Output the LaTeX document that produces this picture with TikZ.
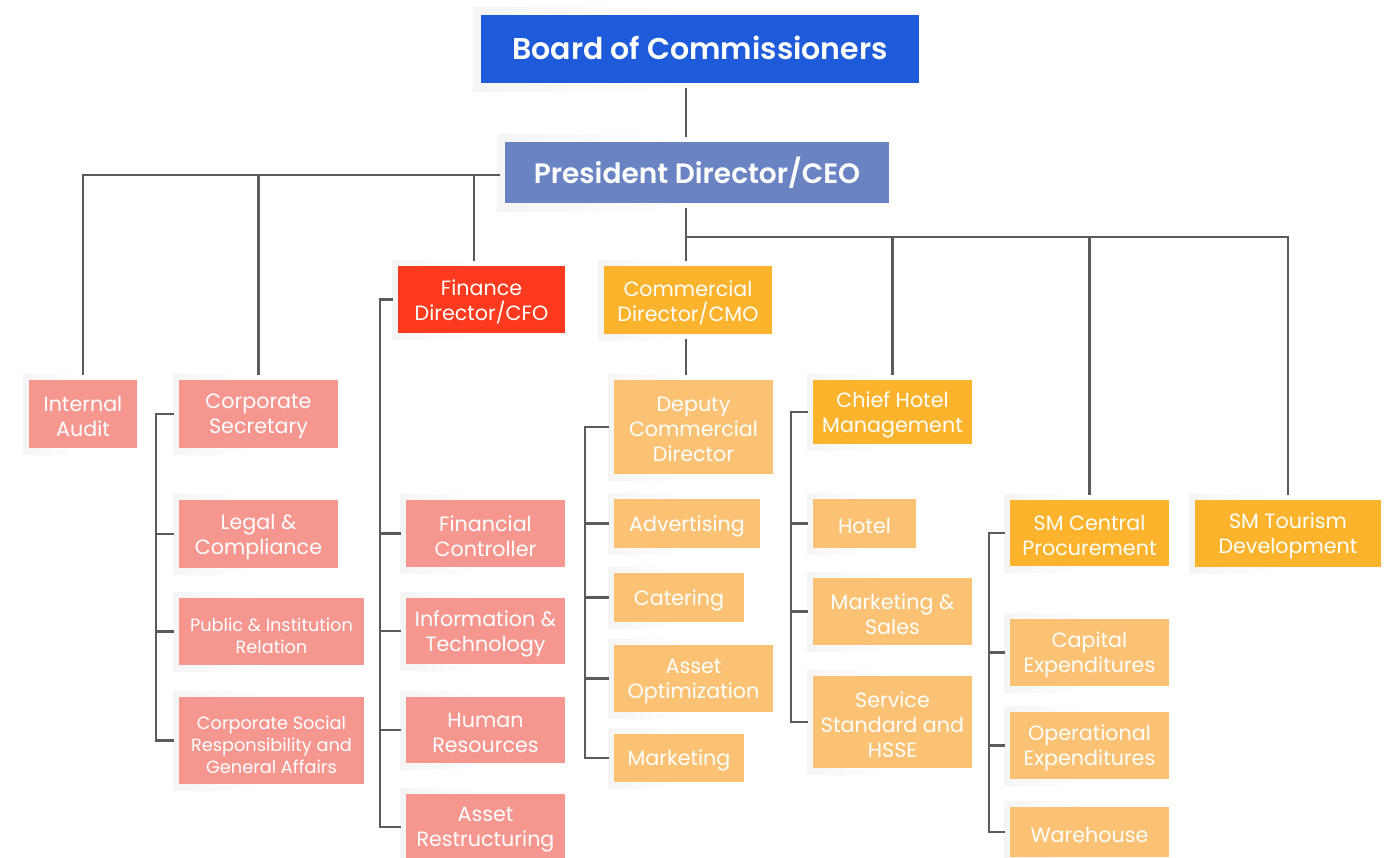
\documentclass[tikz,border=0pt]{standalone}
\usepackage{fontspec}
\setmainfont{Poppins}[BoldFont={Poppins SemiBold}]
\usetikzlibrary{calc}
\definecolor{cBoard}{HTML}{1E5BDB}
\definecolor{cPres}{HTML}{6A83C2}
\definecolor{cRed}{HTML}{FF3A1F}
\definecolor{cOrange}{HTML}{FDB32B}
\definecolor{cLight}{HTML}{FCC274}
\definecolor{cPink}{HTML}{F5978F}
\definecolor{cLine}{HTML}{5B5B5B}
\tikzset{
  basebox/.style={rectangle, inner sep=0pt, outer sep=3.4pt},
  boardbox/.style={basebox, fill=cBoard},
  presbox/.style={basebox, fill=cPres},
  redbox/.style={basebox, fill=cRed},
  orangebox/.style={basebox, fill=cOrange},
  lightbox/.style={basebox, fill=cLight},
  pinkbox/.style={basebox, fill=cPink},
  boxtext/.style={inner sep=0pt, text=white, align=center, yshift=-2pt,
    font=\fontsize{15.5}{18.8}\selectfont},
  bigtext/.style={boxtext, yshift=2.5pt, font=\fontsize{22.5}{26}\selectfont\bfseries},
  prestext/.style={boxtext, yshift=2pt, font=\fontsize{21}{24}\selectfont\bfseries},
  smalltext/.style={boxtext, yshift=-1pt, font=\fontsize{13.3}{16.5}\selectfont},
  conn/.style={draw=cLine, line width=2.1pt, line join=miter},
}
% name, x1, y1, x2, y2, box style, text, shadow pad, text style
\newcommand\obox[9]{%
  \shade[left color=gray!8, right color=white] (#2-#8,#3-#8) rectangle ({#2+0.45*(#4-#2)},#5+#8);
  \node[#6, minimum width={(#4-#2)*0.75pt}, minimum height={(#5-#3)*0.75pt}]
    (#1) at ({(#2+#4)/2},{(#3+#5)/2}) {};%
  \node[#9] (#1-t) at (#1.center) {#7};%
}
\begin{document}
\begin{tikzpicture}[x=0.75pt,y=-0.75pt]
\useasboundingbox[fill=white] (0,0) rectangle (1392,857);

% top
\obox{board}{481}{15}{919}{83}{boardbox}{Board of Commissioners}{8}{bigtext}
\obox{pres}{505}{142}{889}{203}{presbox}{President Director/CEO}{8}{prestext}

% left group
\obox{ia}{29}{380}{137}{448}{pinkbox}{Internal\\Audit}{6}{boxtext}
\obox{cs}{179}{380}{338}{448}{pinkbox}{Corporate\\Secretary}{6}{boxtext}
\obox{legal}{179}{500}{338}{568}{pinkbox}{Legal \&\\Compliance}{6}{boxtext}
\obox{pir}{179}{598}{364}{665}{pinkbox}{Public \& Institution\\Relation}{6}{smalltext}
\obox{csr}{179}{697}{364}{784}{pinkbox}{Corporate Social\\Responsibility and\\General Affairs}{6}{smalltext}

% finance
\obox{fin}{398}{266}{565}{333}{redbox}{Finance\\Director/CFO}{6}{boxtext}
\obox{fc}{406}{500}{565}{567}{pinkbox}{Financial\\Controller}{6}{boxtext}
\obox{it}{406}{598}{565}{664}{pinkbox}{Information \&\\Technology}{6}{boxtext}
\obox{hr}{406}{697}{565}{763}{pinkbox}{Human\\Resources}{6}{boxtext}
\obox{ar}{406}{794}{565}{860}{pinkbox}{Asset\\Restructuring}{6}{boxtext}

% commercial
\obox{cmo}{604}{266}{772}{334}{orangebox}{Commercial\\Director/CMO}{6}{boxtext}
\obox{dcd}{614}{380}{773}{474}{lightbox}{Deputy\\Commercial\\Director}{6}{boxtext}
\obox{adv}{614}{499}{760}{548}{lightbox}{Advertising}{6}{boxtext}
\obox{cat}{614}{573}{744}{622}{lightbox}{Catering}{6}{boxtext}
\obox{ao}{614}{645}{773}{712}{lightbox}{Asset\\Optimization}{6}{boxtext}
\obox{mkt}{614}{734}{744}{782}{lightbox}{Marketing}{6}{boxtext}

% hotel
\obox{chm}{813}{380}{972}{444}{orangebox}{Chief Hotel\\Management}{6}{boxtext}
\obox{hotel}{813}{499}{916}{548}{lightbox}{Hotel}{6}{boxtext}
\obox{ms}{813}{578}{972}{645}{lightbox}{Marketing \&\\Sales}{6}{boxtext}
\obox{ss}{813}{676}{972}{768}{lightbox}{Service\\Standard and\\HSSE}{6}{boxtext}

% procurement
\obox{smcp}{1010}{500}{1169}{566}{orangebox}{SM Central\\Procurement}{6}{boxtext}
\obox{capex}{1010}{619}{1169}{686}{lightbox}{Capital\\Expenditures}{6}{boxtext}
\obox{opex}{1010}{712}{1169}{779}{lightbox}{Operational\\Expenditures}{6}{boxtext}
\obox{wh}{1010}{807}{1169}{857}{lightbox}{Warehouse}{6}{boxtext}

% tourism
\obox{smt}{1195}{500}{1381}{567}{orangebox}{SM Tourism\\Development}{6}{boxtext}

% helper coordinates
\coordinate (tA) at (686,0);
\coordinate (rj) at (686,237);
\coordinate (lj) at (0,175);
\coordinate (fx) at (474,0);
\coordinate (csbar) at (156,0);
\coordinate (finbar) at (380,0);
\coordinate (dbar) at (585,0);
\coordinate (hbar) at (791,0);
\coordinate (pbar) at (989,0);

% connectors
\draw[conn] (board.south -| tA) -- (pres.north -| tA);
\draw[conn] (pres.south -| tA) -- (cmo.north -| tA);
\draw[conn] (cmo.south -| tA) -- (dcd.north -| tA);
\draw[conn] (rj) -| (smt.north);
\draw[conn] (rj -| chm) -- (chm.north);
\draw[conn] (rj -| smcp) -- (smcp.north);

\draw[conn] (pres.west |- lj) -| (ia.north);
\draw[conn] (lj -| cs) -- (cs.north);
\draw[conn] (lj -| fx) -- (fin.north -| fx);

\draw[conn] (cs.west) -- (cs.west -| csbar) -- (csr.west -| csbar) -- (csr.west);
\draw[conn] (legal.west -| csbar) -- (legal.west);
\draw[conn] (pir.west -| csbar) -- (pir.west);

\draw[conn] (fin.west) -- (fin.west -| finbar) -- (ar.west -| finbar) -- (ar.west);
\draw[conn] (fc.west -| finbar) -- (fc.west);
\draw[conn] (it.west -| finbar) -- (it.west);
\draw[conn] (hr.west -| finbar) -- (hr.west);

\draw[conn] (dcd.west) -- (dcd.west -| dbar) -- (mkt.west -| dbar) -- (mkt.west);
\draw[conn] (adv.west -| dbar) -- (adv.west);
\draw[conn] (cat.west -| dbar) -- (cat.west);
\draw[conn] (ao.west -| dbar) -- (ao.west);

\draw[conn] (chm.west) -- (chm.west -| hbar) -- (ss.west -| hbar) -- (ss.west);
\draw[conn] (hotel.west -| hbar) -- (hotel.west);
\draw[conn] (ms.west -| hbar) -- (ms.west);

\draw[conn] (smcp.west) -- (smcp.west -| pbar) -- (wh.west -| pbar) -- (wh.west);
\draw[conn] (capex.west -| pbar) -- (capex.west);
\draw[conn] (opex.west -| pbar) -- (opex.west);
\end{tikzpicture}
\end{document}
